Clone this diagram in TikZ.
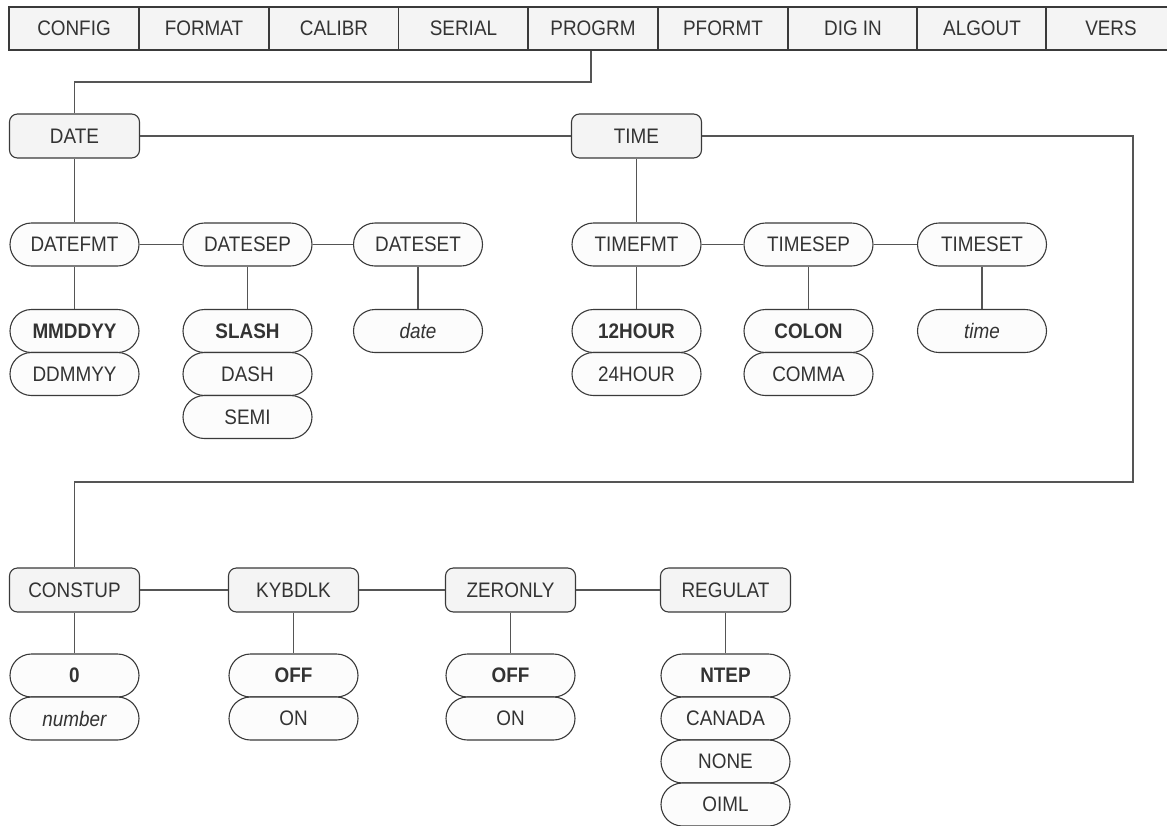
\documentclass[tikz,border=0pt]{standalone}
\usepackage{fontspec}
\setmainfont{Liberation Sans}[FakeStretch=0.9]
\definecolor{txt}{HTML}{333333}
\definecolor{bord}{HTML}{3A3A3A}
\definecolor{lin}{HTML}{555555}
\definecolor{boxfill}{HTML}{F4F4F4}
\definecolor{pillfill}{HTML}{FCFCFC}
\begin{document}
\begin{tikzpicture}[x=1pt,y=-1pt,
  every node/.style={font=\fontsize{21}{24}\selectfont, text=txt, inner sep=0pt},
  barcell/.style={draw=bord, fill=boxfill, line width=1.1pt, minimum width=130pt, minimum height=43pt},
  menubox/.style={draw=bord, fill=boxfill, line width=1.1pt, rounded corners=8pt, minimum width=130pt, minimum height=44pt},
  pill/.style={draw=bord, fill=pillfill, line width=1.1pt, rounded corners=21.5pt, minimum width=129pt, minimum height=43pt},
  sel/.style={font=\fontsize{21}{24}\selectfont\bfseries},
  var/.style={font=\fontsize{21}{24}\selectfont\itshape},
  conn/.style={draw=lin, line width=1.3pt}]
\useasboundingbox (0,0) rectangle (1167,825);
\fill[white] (0,0) rectangle (1167,825);

% top menu bar
\node[barcell] (config) at (74,28.5) {CONFIG};
\node[barcell] (format) at (204,28.5) {FORMAT};
\node[barcell] (calibr) at (334,28.5) {CALIBR};
\node[barcell] (serial) at (463.5,28.5) {SERIAL};
\node[barcell] (progrm) at (593,28.5) {PROGRM};
\node[barcell] (pformt) at (723,28.5) {PFORMT};
\node[barcell] (digin) at (853,28.5) {DIG IN};
\node[barcell] (algout) at (982,28.5) {ALGOUT};
\node[barcell] (vers) at (1111,28.5) {VERS};

% level 1
\node[menubox] (date) at (74.5,136) {DATE};
\node[menubox] (time) at (636.5,136) {TIME};

% date group
\node[pill] (datefmt) at (74.5,244.5) {DATEFMT};
\node[pill] (datesep) at (247.5,244.5) {DATESEP};
\node[pill] (dateset) at (418,244.5) {DATESET};
\node[pill,sel] (mmddyy) at (74.5,331) {MMDDYY};
\node[pill] (ddmmyy) at (74.5,374) {DDMMYY};
\node[pill,sel] (slash) at (247.5,331) {SLASH};
\node[pill] (dash) at (247.5,374) {DASH};
\node[pill] (semi) at (247.5,417) {SEMI};
\node[pill,var] (dateval) at (418,331) {date};

% time group
\node[pill] (timefmt) at (636.5,244.5) {TIMEFMT};
\node[pill] (timesep) at (808.5,244.5) {TIMESEP};
\node[pill] (timeset) at (982,244.5) {TIMESET};
\node[pill,sel] (h12) at (636.5,331) {12HOUR};
\node[pill] (h24) at (636.5,374) {24HOUR};
\node[pill,sel] (colon) at (808.5,331) {COLON};
\node[pill] (comma) at (808.5,374) {COMMA};
\node[pill,var] (timeval) at (982,331) {time};

% bottom group
\node[menubox] (constup) at (74.5,590) {CONSTUP};
\node[menubox] (kybdlk) at (293.5,590) {KYBDLK};
\node[menubox] (zeronly) at (510.5,590) {ZERONLY};
\node[menubox] (regulat) at (725.5,590) {REGULAT};
\node[pill,sel] (zero) at (74.5,675.5) {0};
\node[pill,var] (number) at (74.5,718.5) {number};
\node[pill,sel] (koff) at (293.5,675.5) {OFF};
\node[pill] (kon) at (293.5,718.5) {ON};
\node[pill,sel] (zoff) at (510.5,675.5) {OFF};
\node[pill] (zon) at (510.5,718.5) {ON};
\node[pill,sel] (ntep) at (725.5,675.5) {NTEP};
\node[pill] (canada) at (725.5,718.5) {CANADA};
\node[pill] (none) at (725.5,761.5) {NONE};
\node[pill] (oiml) at (725.5,804.5) {OIML};

% connectors
\coordinate (j1) at (591,82);
\coordinate (r1) at (1133,136);
\coordinate (r2) at (1133,482);
\draw[conn] (progrm.south -| j1) -- (j1) -- (j1 -| date.north) -- (date.north);
\draw[conn] (date.east) -- (time.west);
\draw[conn] (date.south) -- (datefmt.north);
\draw[conn] (time.south) -- (timefmt.north);
\draw[conn] (datefmt.east) -- (datesep.west);
\draw[conn] (datesep.east) -- (dateset.west);
\draw[conn] (timefmt.east) -- (timesep.west);
\draw[conn] (timesep.east) -- (timeset.west);
\draw[conn] (datefmt.south) -- (mmddyy.north);
\draw[conn] (datesep.south) -- (slash.north);
\draw[conn] (dateset.south) -- (dateval.north);
\draw[conn] (timefmt.south) -- (h12.north);
\draw[conn] (timesep.south) -- (colon.north);
\draw[conn] (timeset.south) -- (timeval.north);
\draw[conn] (time.east) -- (r1) -- (r2) -- (r2 -| constup.north) -- (constup.north);
\draw[conn] (constup.east) -- (kybdlk.west);
\draw[conn] (kybdlk.east) -- (zeronly.west);
\draw[conn] (zeronly.east) -- (regulat.west);
\draw[conn] (constup.south) -- (zero.north);
\draw[conn] (kybdlk.south) -- (koff.north);
\draw[conn] (zeronly.south) -- (zoff.north);
\draw[conn] (regulat.south) -- (ntep.north);
\end{tikzpicture}
\end{document}
